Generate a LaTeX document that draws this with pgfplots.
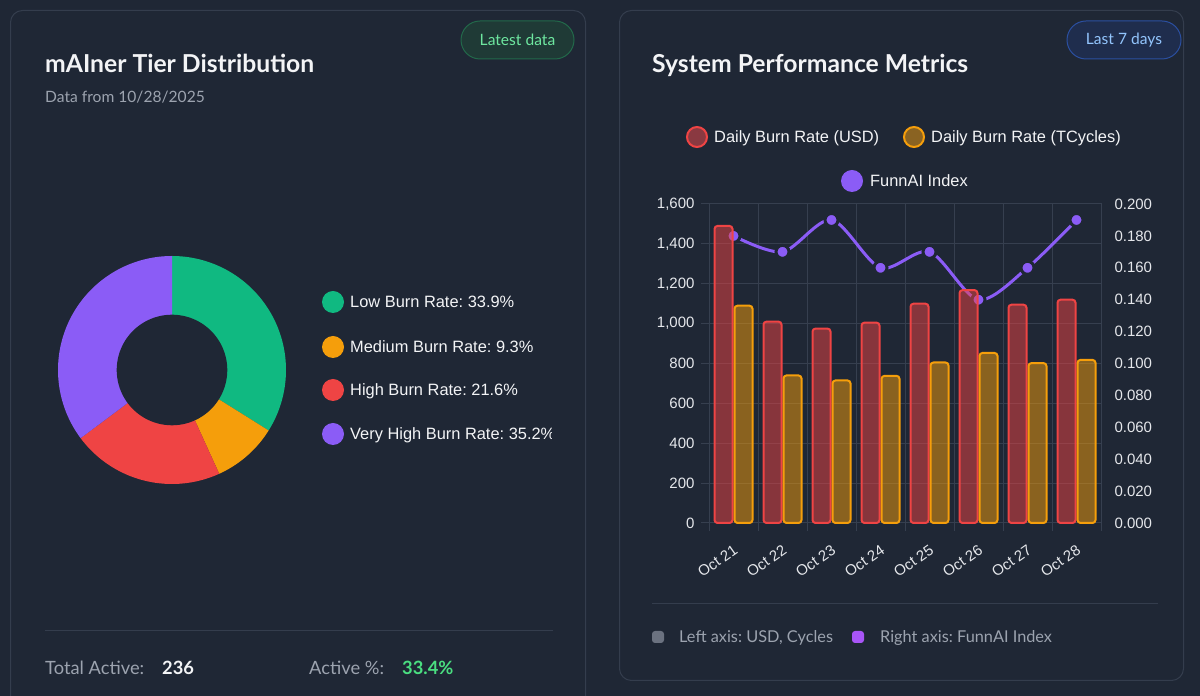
\documentclass[border=0pt]{standalone}
\usepackage{fontspec}
\setmainfont{Lato}
\newfontfamily\arial{Liberation Sans}
\usepackage{pgfplots}
\pgfplotsset{compat=1.18}
\usepackage{pgfplotstable}
\frenchspacing

\definecolor{bg}{HTML}{1F2735}
\definecolor{cardline}{HTML}{343D4D}
\definecolor{gridc}{HTML}{363F4F}
\definecolor{txtw}{HTML}{F3F4F6}
\definecolor{txtg}{HTML}{9CA3AF}
\definecolor{tickc}{HTML}{E5E7EB}
\definecolor{greenc}{HTML}{10B981}
\definecolor{orangec}{HTML}{F59E0B}
\definecolor{redc}{HTML}{EF4444}
\definecolor{purplec}{HTML}{8B5CF6}
\definecolor{redfill}{HTML}{8A3941}
\definecolor{orangefill}{HTML}{8A6322}
\definecolor{mint}{HTML}{6EE7A0}
\definecolor{gbadgefill}{HTML}{1F3A36}
\definecolor{gbadgeline}{HTML}{22694A}
\definecolor{bbadgefill}{HTML}{1F2D4D}
\definecolor{bbadgeline}{HTML}{2B4FA0}
\definecolor{bluetxt}{HTML}{93C5FD}
\definecolor{activegreen}{HTML}{4ADE80}
\definecolor{footgrey}{HTML}{6B7280}
\definecolor{footpurple}{HTML}{A855F7}

% tier shares (percent)
\def\pLow{33.9}
\def\pMed{9.3}
\def\pHigh{21.6}
\def\pVHigh{35.2}
\pgfmathsetmacro\aA{90}
\pgfmathsetmacro\aB{90-3.6*\pLow}
\pgfmathsetmacro\aC{\aB-3.6*\pMed}
\pgfmathsetmacro\aD{\aC-3.6*\pHigh}
\pgfmathsetmacro\aE{\aD-3.6*\pVHigh}

\pgfplotstableread{
idx usd tcyc funnai
0 1490 1090 0.18
1 1010 740 0.17
2 975 715 0.19
3 1005 738 0.16
4 1100 805 0.17
5 1168 853 0.14
6 1095 802 0.16
7 1120 818 0.19
}\perfdata

\newcommand{\tickfont}{\arial\fontsize{15}{18}\selectfont}
\newcommand{\legfont}{\arial\fontsize{16.4}{19}\selectfont}

\begin{document}
\begin{tikzpicture}[x=1pt,y=1pt]
\useasboundingbox (0,0) rectangle (1200,696);
\fill[bg] (0,0) rectangle (1200,696);
\begin{scope}
\clip (0,0) rectangle (1200,696);
\draw[cardline, line width=1pt, rounded corners=12pt] (10.5,685.5) rectangle (585.5,-30);
\draw[cardline, line width=1pt, rounded corners=12pt] (619.5,685.5) rectangle (1183.5,15.5);
\end{scope}

% ---- left card texts
\node[anchor=base west, inner sep=0, text=txtw, font=\fontsize{24.7}{28}\selectfont\bfseries] at (45,623) {mAIner Tier Distribution};
\node[anchor=base west, inner sep=0, text=txtg, font=\fontsize{15.6}{18}\selectfont] at (45,593) {Data from 10/28/2025};
\draw[gbadgeline, fill=gbadgefill, line width=1pt, rounded corners=19pt] (461,637) rectangle (574,675);
\node[text=mint, font=\fontsize{15.6}{18}\selectfont, inner sep=0] at (517.5,656) {Latest data};

\begin{scope}
\clip (0,0) rectangle (551,696);
\fill[greenc] (333,394) circle (11);
\fill[orangec] (333,349) circle (11);
\fill[redc] (333,306) circle (11);
\fill[purplec] (333,262) circle (11);
\node[anchor=base west, inner sep=0, text=txtw, font=\legfont] at (350,388.2) {Low Burn Rate: 33.9\%};
\node[anchor=base west, inner sep=0, text=txtw, font=\legfont] at (350,343.2) {Medium Burn Rate: 9.3\%};
\node[anchor=base west, inner sep=0, text=txtw, font=\legfont] at (350,300.2) {High Burn Rate: 21.6\%};
\node[anchor=base west, inner sep=0, text=txtw, font=\legfont] at (350,256.2) {Very High Burn Rate: 35.2\%};
\end{scope}

\draw[cardline, line width=1pt] (45,65) -- (553,65);
\node[anchor=base west, inner sep=0, text=txtg, font=\fontsize{18.3}{22}\selectfont] at (45,21.5) {Total Active:};
\node[anchor=base west, inner sep=0, text=txtw, font=\fontsize{18.3}{22}\selectfont\bfseries] at (162,21.5) {236};
\node[anchor=base west, inner sep=0, text=txtg, font=\fontsize{18.3}{22}\selectfont] at (309,21.5) {Active \%:};
\node[anchor=base west, inner sep=0, text=activegreen, font=\fontsize{18.3}{22}\selectfont\bfseries] at (402,21.5) {33.4\%};

% ---- donut
\begin{axis}[at={(58pt,212pt)}, anchor=south west, scale only axis, width=228pt, height=228pt,
  xmin=-1, xmax=1, ymin=-1, ymax=1, hide axis, clip=false]
\addplot[fill=greenc, draw=none, domain=\aB:\aA, samples=80] ({cos(x)},{sin(x)}) -- (axis cs:0,0) -- cycle;
\addplot[fill=orangec, draw=none, domain=\aC:\aB, samples=40] ({cos(x)},{sin(x)}) -- (axis cs:0,0) -- cycle;
\addplot[fill=redc, draw=none, domain=\aD:\aC, samples=60] ({cos(x)},{sin(x)}) -- (axis cs:0,0) -- cycle;
\addplot[fill=purplec, draw=none, domain=\aE:\aD, samples=80] ({cos(x)},{sin(x)}) -- (axis cs:0,0) -- cycle;
\addplot[fill=bg, draw=none, domain=0:360, samples=120] ({0.485*cos(x)},{0.485*sin(x)}) -- cycle;
\end{axis}

% ---- right card texts
\node[anchor=base west, inner sep=0, text=txtw, font=\fontsize{24.7}{28}\selectfont\bfseries] at (652,623) {System Performance Metrics};
\draw[bbadgeline, fill=bbadgefill, line width=1pt, rounded corners=19pt] (1067,637) rectangle (1181,675);
\node[text=bluetxt, font=\fontsize{15.6}{18}\selectfont, inner sep=0] at (1124,656) {Last 7 days};

\draw[redc, fill=redfill, line width=2pt] (697,559) circle (10);
\node[anchor=base west, inner sep=0, text=txtw, font=\legfont] at (714,553.2) {Daily Burn Rate (USD)};
\draw[orangec, fill=orangefill, line width=2pt] (914,559) circle (10);
\node[anchor=base west, inner sep=0, text=txtw, font=\legfont] at (931,553.2) {Daily Burn Rate (TCycles)};
\fill[purplec] (852,515) circle (11);
\node[anchor=base west, inner sep=0, text=txtw, font=\legfont] at (870,509.2) {FunnAI Index};

\draw[cardline, line width=1pt] (652,92) -- (1158,92);
\fill[footgrey, rounded corners=3pt] (652,53) rectangle (664,65);
\node[anchor=base west, inner sep=0, text=txtg, font=\fontsize{16.3}{19}\selectfont] at (679,53.2) {Left axis: USD, Cycles};
\fill[footpurple, rounded corners=3pt] (852,53) rectangle (864,65);
\node[anchor=base west, inner sep=0, text=txtg, font=\fontsize{16.3}{19}\selectfont] at (880,53.2) {Right axis: FunnAI Index};

% ---- left axis: grid and USD / TCycles scale
\begin{axis}[at={(709pt,173pt)}, anchor=south west, scale only axis, width=392pt, height=319pt,
  xmin=-0.5, xmax=7.5, ymin=0, ymax=1600,
  ytick={0,200,...,1600},
  xtick={0,...,7},
  xticklabels={Oct 21,Oct 22,Oct 23,Oct 24,Oct 25,Oct 26,Oct 27,Oct 28},
  minor xtick={-0.5,0.5,...,7.5},
  xminorgrids, ymajorgrids,
  grid style={draw=gridc, line width=1pt},
  minor grid style={draw=gridc, line width=1pt},
  axis line style={draw=gridc, line width=1pt},
  tick pos=left, tick align=outside,
  major tick length=8pt, minor tick length=8pt,
  major x tick style={draw=none},
  minor x tick style={draw=gridc, line width=1pt},
  y tick style={draw=gridc, line width=1pt},
  /pgf/number format/assume math mode=true,
  /pgf/number format/1000 sep={,},
  yticklabel style={font=\tickfont, text=tickc, xshift=-3pt},
  xticklabel style={font=\tickfont, text=tickc, rotate=35, anchor=north east, inner sep=1pt, xshift=-7pt, yshift=-9pt},
  clip=false]
\end{axis}

% ---- right axis: FunnAI index line (drawn beneath the bars)
\begin{axis}[at={(709pt,173pt)}, anchor=south west, scale only axis, width=392pt, height=319pt,
  xmin=-0.5, xmax=7.5, ymin=0, ymax=0.2,
  axis y line*=right, axis x line=none,
  ytick={0,0.02,0.04,0.06,0.08,0.1,0.12,0.14,0.16,0.18,0.2},
  y tick style={draw=none},
  y axis line style={draw=none},
  /pgf/number format/assume math mode=true,
  /pgf/number format/fixed, /pgf/number format/fixed zerofill, /pgf/number format/precision=3,
  yticklabel style={font=\tickfont, text=tickc, xshift=10pt},
  clip=false]
\addplot[color=purplec, line width=3pt, smooth, tension=0.5, mark=*, mark size=6.5pt,
  mark options={fill=purplec, draw=bg, line width=3pt}] table[x=idx, y=funnai] {\perfdata};
\end{axis}

% ---- bars (semi-transparent, over the line)
\begin{axis}[at={(709pt,173pt)}, anchor=south west, scale only axis, width=392pt, height=319pt,
  xmin=-0.5, xmax=7.5, ymin=0, ymax=1600, hide axis, clip=false]
\addplot[ybar, bar width=18pt, bar shift=-10pt, fill=redc, fill opacity=0.5, draw=redc, draw opacity=1, line width=2pt, rounded corners=3pt] table[x=idx, y=usd] {\perfdata};
\addplot[ybar, bar width=18pt, bar shift=10pt, fill=orangec, fill opacity=0.5, draw=orangec, draw opacity=1, line width=2pt, rounded corners=3pt] table[x=idx, y=tcyc] {\perfdata};
\end{axis}
\end{tikzpicture}
\end{document}
